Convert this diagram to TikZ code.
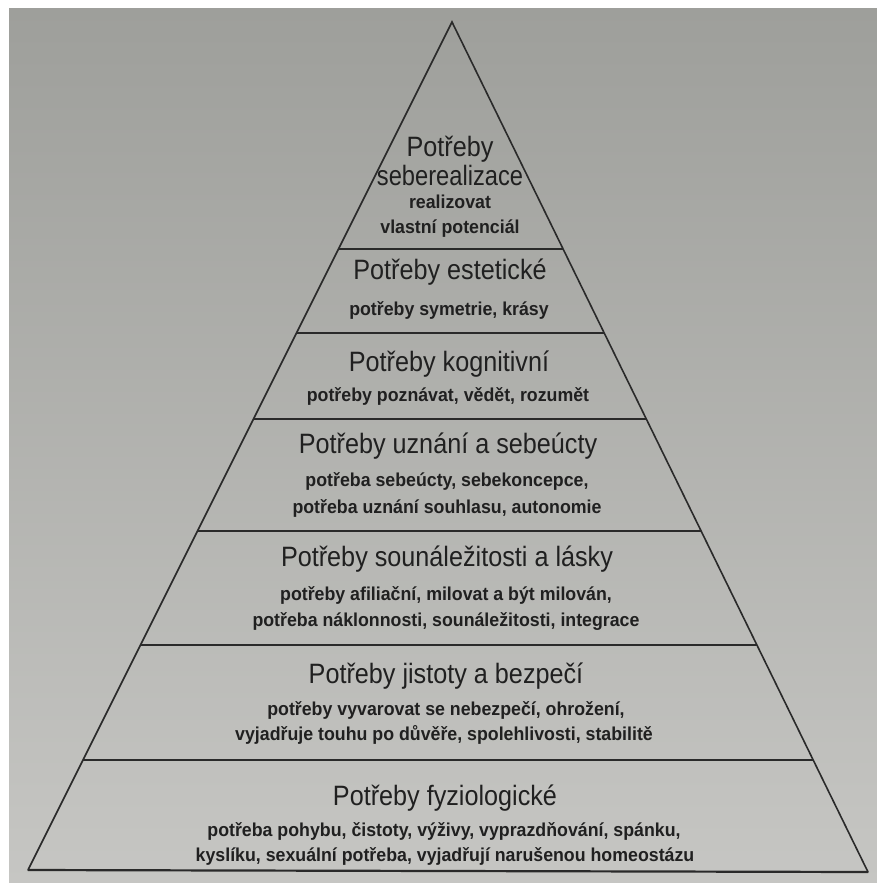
\documentclass[tikz,border=0pt]{standalone}
\usepackage{fontspec}
\setmainfont{Liberation Sans}
\newfontfamily\titlefont[FakeStretch=0.9]{Liberation Sans}
\newfontfamily\subfont[FakeStretch=0.95]{Liberation Sans}
\definecolor{ink}{RGB}{32,32,32}
\definecolor{linecol}{RGB}{42,42,42}
\definecolor{bgdark}{RGB}{158,159,155}
\definecolor{bglight}{RGB}{198,198,195}
\tikzset{
  ttl/.style={font=\titlefont\fontsize{28}{30}\selectfont, text=ink, anchor=base, inner sep=0pt},
  subtxt/.style={font=\subfont\bfseries\fontsize{18.7}{20}\selectfont, text=ink, anchor=base, inner sep=0pt},
  edge/.style={draw=linecol, line width=1.6pt, line cap=round},
  rule/.style={draw=linecol, line width=2.2pt}
}
\begin{document}
\begin{tikzpicture}[x=1pt,y=-1pt]
\useasboundingbox (0,0) rectangle (877,883);
\fill[white] (0,0) rectangle (877,883);
\shade[top color=bgdark, bottom color=bglight] (9,9) rectangle (877,883);
% pyramid corners
\coordinate (A) at (452,22);
\coordinate (BL) at (28,870);
\coordinate (BR) at (868,872);
% level boundaries
\coordinate (L1) at (338.5,249); \coordinate (R1) at (563.1,249);
\coordinate (L2) at (296.5,333); \coordinate (R2) at (604.2,333);
\coordinate (L3) at (253.5,419); \coordinate (R3) at (646.3,419);
\coordinate (L4) at (197.5,531); \coordinate (R4) at (701.1,531);
\coordinate (L5) at (140.5,645); \coordinate (R5) at (756.9,645);
\coordinate (L6) at (83,760);    \coordinate (R6) at (813.2,760);
\draw[edge] (BL) -- (A) -- (BR);
\draw[rule] (BL) -- (BR);
\foreach \i in {1,...,6} {\draw[rule] (L\i) -- (R\i);}
% level 1
\node[ttl] (t1a) at (450,156.7) {Potřeby};
\node[ttl] (t1b) at (450,185) {\scalebox{0.94}[1]{seberealizace}};
\node[subtxt] (s1a) at (450,208) {realizovat};
\node[subtxt] (s1b) at (450,233) {vlastní potenciál};
% level 2
\node[ttl] (t2) at (450,279) {Potřeby estetické};
\node[subtxt] (s2) at (449,315) {potřeby symetrie, krásy};
% level 3
\node[ttl] (t3) at (449,371.7) {Potřeby kognitivní};
\node[subtxt] (s3) at (448,401) {potřeby poznávat, vědět, rozumět};
% level 4
\node[ttl] (t4) at (448,453) {Potřeby uznání a sebeúcty};
\node[subtxt] (s4a) at (447,486.7) {potřeba sebeúcty, sebekoncepce,};
\node[subtxt] (s4b) at (447,513.5) {potřeba uznání souhlasu, autonomie};
% level 5
\node[ttl] (t5) at (447,566.7) {Potřeby sounáležitosti a lásky};
\node[subtxt] (s5a) at (446,600) {potřeby afiliační, milovat a být milován,};
\node[subtxt] (s5b) at (446,626.7) {potřeba náklonnosti, sounáležitosti, integrace};
% level 6
\node[ttl] (t6) at (446,683) {Potřeby jistoty a bezpečí};
\node[subtxt] (s6a) at (446,715.7) {potřeby vyvarovat se nebezpečí, ohrožení,};
\node[subtxt] (s6b) at (444,740) {vyjadřuje touhu po důvěře, spolehlivosti, stabilitě};
% level 7
\node[ttl] (t7) at (445,805) {Potřeby fyziologické};
\node[subtxt] (s7a) at (444,836.7) {potřeba pohybu, čistoty, výživy, vyprazdňování, spánku,};
\node[subtxt] (s7b) at (445,861.7) {kyslíku, sexuální potřeba, vyjadřují narušenou homeostázu};
\end{tikzpicture}
\end{document}
